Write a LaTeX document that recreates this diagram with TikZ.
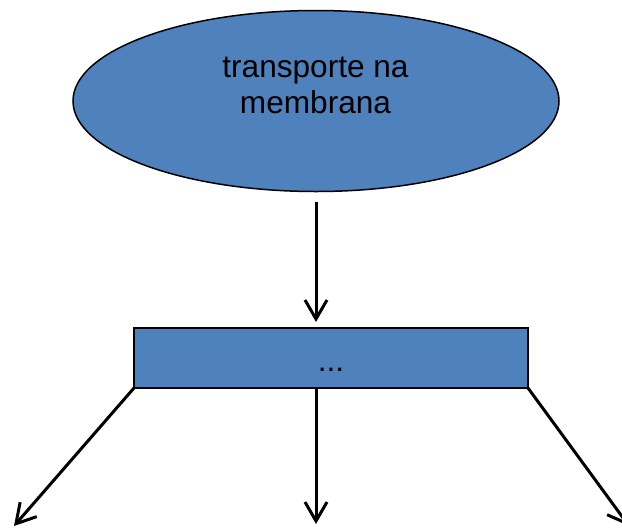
\documentclass[tikz,border=0pt]{standalone}
\usepackage{fontspec}
\setmainfont{Liberation Sans}
\usetikzlibrary{shapes.geometric,arrows.meta}

\definecolor{boxblue}{HTML}{4F81BD}

\tikzset{
    blue_shape/.style={fill=boxblue, draw=black},
    big_text/.style={font=\fontsize{31.6pt}{35.4pt}\selectfont},
    down_arrow/.style={line width=3pt, -{Straight Barb[length=19pt,width=22pt,line width=3pt]}}
}

\begin{document}
\begin{tikzpicture}[inner sep=0pt,outer sep=0pt,x=1pt,y=-1pt]
    \useasboundingbox (0,0) rectangle (622,528);

    % top ellipse
    \node[blue_shape, ellipse, line width=1.5pt, minimum width=486pt, minimum height=181pt]
    (transp_ell) at (316,101) {};
    \node[big_text, align=center, anchor=base] (transp_txt)
    at ([xshift=-0.5pt,yshift=-12pt]transp_ell.center) {transporte na\\membrana};

    % middle box
    \node[blue_shape, rectangle, line width=2pt, minimum width=394pt, minimum height=60pt,
          big_text, text height=26pt, text depth=0pt]
    (dots_box) at (331,358) {...};

    % free arrow ends
    \coordinate (left_end) at (14,526);
    \coordinate (mid_end) at (316,524);
    \coordinate (right_end) at (629,526);

    % arrows
    \draw[down_arrow, shorten <=10pt, shorten >=6pt] (transp_ell) -- (transp_ell |- dots_box.north);
    \draw[down_arrow] (dots_box.south west) -- (left_end);
    \draw[down_arrow] (dots_box.south -| transp_ell) -- (mid_end);
    \draw[down_arrow] (dots_box.south east) -- (right_end);
\end{tikzpicture}
\end{document}
